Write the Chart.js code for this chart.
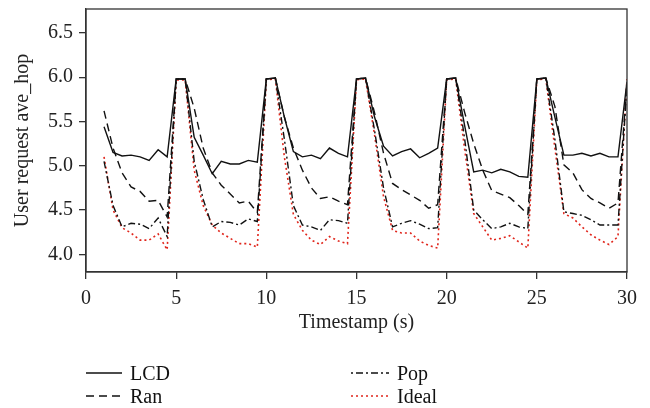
<!DOCTYPE html>
<html>
<head>
<meta charset="utf-8">
<script src="https://cdn.jsdelivr.net/npm/chart.js@4/dist/chart.umd.min.js"></script>
<style>
  html, body { margin: 0; padding: 0; background: #fff; }
  #wrap { position: relative; width: 650px; height: 408px; }
  #c { position: absolute; left: 0; top: 0; }
  .leg { position: absolute; font-family: 'Liberation Serif', 'Times New Roman', serif; font-size: 20px; color: #111; display: flex; align-items: center; white-space: nowrap; height: 22px; }
  .leg svg { margin-right: 8px; }
</style>
</head>
<body>
<div id="wrap">
  <canvas id="c" width="650" height="408"></canvas>
  <div class="leg" style="left:86px; top:362px;"><svg width="36" height="4"><line x1="0" y1="2" x2="36" y2="2" stroke="#111" stroke-width="1.4"/></svg>LCD</div>
  <div class="leg" style="left:86px; top:385px;"><svg width="36" height="4"><line x1="0" y1="2" x2="36" y2="2" stroke="#111" stroke-width="1.4" stroke-dasharray="8,5"/></svg>Ran</div>
  <div class="leg" style="left:351px; top:362px;"><svg width="38" height="4"><line x1="0" y1="2" x2="38" y2="2" stroke="#111" stroke-width="1.4" stroke-dasharray="2,3,7,3"/></svg>Pop</div>
  <div class="leg" style="left:351px; top:385px;"><svg width="38" height="4"><line x1="0" y1="2" x2="38" y2="2" stroke="#e0251b" stroke-width="1.6" stroke-dasharray="2,3"/></svg>Ideal</div>
</div>
<script>
const timestamps = [1,1.5,2,2.5,3,3.5,4,4.5,5,5.5,6,6.5,7,7.5,8,8.5,9,9.5,10,10.5,11,11.5,12,12.5,13,13.5,14,14.5,15,15.5,16,16.5,17,17.5,18,18.5,19,19.5,20,20.5,21,21.5,22,22.5,23,23.5,24,24.5,25,25.5,26,26.5,27,27.5,28,28.5,29,29.5,30];

const lcd = [5.44,5.15,5.11,5.12,5.10,5.06,5.18,5.10, 5.98,5.98,
             5.32,5.12,4.91,5.05,5.02,5.02,5.06,5.04, 5.98,5.99,
             5.55,5.16,5.10,5.12,5.08,5.20,5.14,5.10, 5.98,5.99,
             5.55,5.22,5.11,5.16,5.19,5.09,5.14,5.20, 5.98,5.99,
             5.45,4.93,4.95,4.92,4.96,4.93,4.88,4.87, 5.98,5.99,
             5.55,5.12,5.12,5.14,5.11,5.14,5.10,5.10, 5.95];

const ran = [5.62,5.20,4.92,4.76,4.71,4.60,4.61,4.42, 5.98,5.98,
             5.65,5.20,4.92,4.78,4.68,4.58,4.60,4.47, 5.98,5.99,
             5.55,5.20,4.95,4.75,4.63,4.65,4.60,4.56, 5.98,5.99,
             5.60,5.14,4.80,4.73,4.67,4.61,4.52,4.56, 5.98,5.99,
             5.60,5.25,4.95,4.72,4.68,4.64,4.55,4.45, 5.98,5.99,
             5.67,5.01,4.92,4.73,4.63,4.58,4.52,4.58, 5.93];

const pop = [5.05,4.55,4.31,4.35,4.34,4.29,4.41,4.20, 5.98,5.98,
             5.05,4.62,4.31,4.37,4.36,4.33,4.40,4.37, 5.98,5.99,
             5.30,4.55,4.33,4.31,4.27,4.39,4.38,4.35, 5.98,5.99,
             5.40,4.75,4.31,4.35,4.38,4.34,4.29,4.30, 5.98,5.99,
             5.30,4.50,4.39,4.29,4.31,4.35,4.31,4.29, 5.98,5.99,
             5.30,4.48,4.46,4.44,4.39,4.33,4.33,4.33, 5.92];

const ideal = [5.10,4.50,4.30,4.24,4.16,4.16,4.23,4.05, 5.97,5.97,
               4.95,4.55,4.33,4.24,4.18,4.12,4.12,4.08, 5.97,5.98,
               5.10,4.45,4.27,4.16,4.11,4.20,4.15,4.12, 5.97,5.98,
               5.35,4.65,4.27,4.24,4.24,4.15,4.10,4.07, 5.97,5.98,
               5.18,4.46,4.31,4.16,4.18,4.21,4.14,4.07, 5.97,5.98,
               5.20,4.46,4.41,4.31,4.22,4.16,4.11,4.20, 5.98];

const xTicks = [0,5,10,15,20,25,30];
const yTicks = [4.0,4.5,5.0,5.5,6.0,6.5];

const pts = arr => arr.map((v, i) => ({x: timestamps[i], y: v}));
const FONT = "'Liberation Serif', 'Times New Roman', serif";

const frame = {
  id: 'frame',
  afterDraw(chart) {
    const {ctx, chartArea: a} = chart;
    ctx.save();
    ctx.strokeStyle = '#333';
    ctx.lineWidth = 1.3;
    ctx.strokeRect(a.left, a.top, a.right - a.left, a.bottom - a.top);
    ctx.restore();
  }
};

new Chart(document.getElementById('c'), {
  type: 'line',
  data: {
    datasets: [
      {label: 'LCD', data: pts(lcd), borderColor: '#111', borderWidth: 1.4, pointRadius: 0, tension: 0, fill: false},
      {label: 'Ran', data: pts(ran), borderColor: '#111', borderWidth: 1.4, borderDash: [8,5], pointRadius: 0, tension: 0, fill: false},
      {label: 'Pop', data: pts(pop), borderColor: '#111', borderWidth: 1.4, borderDash: [7,3,2,3], pointRadius: 0, tension: 0, fill: false},
      {label: 'Ideal', data: pts(ideal), borderColor: '#e0251b', borderWidth: 1.6, borderDash: [2,3], pointRadius: 0, tension: 0, fill: false}
    ]
  },
  options: {
    responsive: false,
    animation: false,
    layout: {padding: {top: 9, right: 23, bottom: 73, left: 0}},
    plugins: {legend: {display: false}, tooltip: {enabled: false}},
    scales: {
      x: {
        type: 'linear', min: 0, max: 30,
        afterBuildTicks: s => { s.ticks = xTicks.map(v => ({value: v})); },
        afterFit: s => { s.height = 63; s.paddingLeft = 0; s.paddingRight = 0; },
        grid: {display: true, drawOnChartArea: false, drawTicks: true, tickLength: 7, color: '#333', lineWidth: 1.3},
        border: {display: true, color: '#333', width: 1.3},
        ticks: {color: '#222', font: {family: FONT, size: 20}, padding: 8, maxRotation: 0},
        title: {display: true, text: 'Timestamp (s)', color: '#222', font: {family: FONT, size: 20}, padding: {top: 0, bottom: 0}}
      },
      y: {
        type: 'linear', min: 3.8, max: 6.77,
        afterBuildTicks: s => { s.ticks = yTicks.map(v => ({value: v})); },
        afterFit: s => { s.width = 86; s.paddingTop = 0; s.paddingBottom = 0; },
        grid: {display: true, drawOnChartArea: false, drawTicks: true, tickLength: 7, color: '#333', lineWidth: 1.3},
        border: {display: true, color: '#333', width: 1.3},
        ticks: {color: '#222', font: {family: FONT, size: 20}, padding: 6, callback: v => Number(v).toFixed(1)},
        title: {display: true, text: 'User request ave_hop', color: '#222', font: {family: FONT, size: 20}, padding: {top: 11, bottom: 2}}
      }
    }
  },
  plugins: [frame]
});
</script>
</body>
</html>
